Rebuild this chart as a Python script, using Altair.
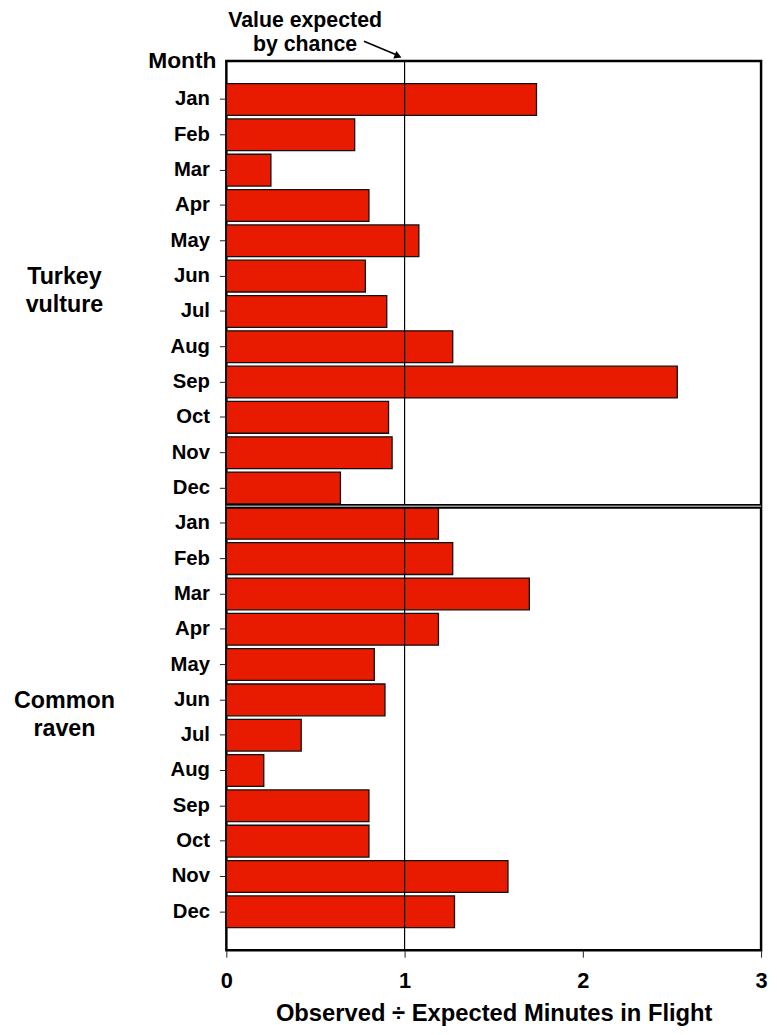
import altair as alt
import pandas as pd

# ---- data ----
months = ["Jan", "Feb", "Mar", "Apr", "May", "Jun", "Jul", "Aug", "Sep", "Oct", "Nov", "Dec"]
species = ["Turkey vulture", "Common raven"]
turkey_vulture = [1.74, 0.72, 0.25, 0.80, 1.08, 0.78, 0.90, 1.27, 2.53, 0.91, 0.93, 0.64]
common_raven = [1.19, 1.27, 1.70, 1.19, 0.83, 0.89, 0.42, 0.21, 0.80, 0.80, 1.58, 1.28]
x_ticks = [0, 1, 2, 3]
expected_by_chance = [1.0]
annotation_text = ["Value expected\nby chance"]
x_title = "Observed \u00f7 Expected Minutes in Flight"
y_title = "Month"

rows = []
for sp, vals in zip(species, [turkey_vulture, common_raven]):
    for m, v in zip(months, vals):
        rows.append({"species": sp, "month": m, "key": f"{sp}|{m}", "ratio": v})
df = pd.DataFrame(rows)
keys = list(df["key"])

FONT = "Liberation Sans"
RED = "#E81A00"

yscale = alt.Scale(domain=keys, paddingInner=0.1, paddingOuter=0.64)

label_expr = ("split(datum.label,'|')[1] == 'Jul' ? 'Jul\u00a0' : split(datum.label,'|')[1]")

y_axis = alt.Axis(
    labelExpr=label_expr, title=y_title, domain=False, grid=False,
    tickSize=7, tickColor="#222222", labelFontSize=20.5, labelFontWeight="bold",
    labelColor="black", labelFont=FONT, labelPadding=10,
    titleAngle=0, titleAlign="right", titleBaseline="alphabetic",
    titleX=-10.5, titleY=7, titleFontSize=23, titleFontWeight="bold",
    titleFont=FONT, titleColor="black",
)

bars = alt.Chart(df).mark_bar(color=RED, stroke="#111111", strokeWidth=1.3).encode(
    x=alt.X(
        "ratio:Q",
        scale=alt.Scale(domain=[0, 3], nice=False, zero=True),
        axis=alt.Axis(
            values=x_ticks, format="d", title=x_title, domain=False, grid=False,
            tickSize=7, tickColor="#222222", labelFontSize=22, labelFontWeight="bold",
            labelColor="black", labelFont=FONT, labelPadding=14, labelFlush=False,
            titleFontSize=24, titleFontWeight="bold", titleFont=FONT, titleColor="black",
            titlePadding=10,
        ),
    ),
    y=alt.Y("key:N", scale=yscale, axis=y_axis),
)

# expected-by-chance reference line
ref_line = alt.Chart(pd.DataFrame({"x": expected_by_chance})).mark_rule(
    color="black", strokeWidth=1.2
).encode(x="x:Q")

# divider between the two species panels
div_df = pd.DataFrame({"key": [f"{species[0]}|{months[-1]}"]})
divider = alt.Chart(div_df).mark_rule(color="black", strokeWidth=5, yOffset=2.5).encode(
    y=alt.Y("key:N", bandPosition=1, axis=y_axis)
)
divider_inner = alt.Chart(div_df).mark_rule(color="#9a9a9a", strokeWidth=1.5, yOffset=2.5).encode(
    y=alt.Y("key:N", bandPosition=1, axis=y_axis)
)

# species labels on the left
sp_df = pd.DataFrame({"species": species, "key": [f"{s}|Jun" for s in species]})
species_labels = alt.Chart(sp_df).mark_text(
    font=FONT, fontWeight="bold", fontSize=23.5, lineBreak=" ", lineHeight=28,
    align="center", baseline="middle", color="black", yOffset=-15,
).encode(
    y=alt.Y("key:N", bandPosition=1, axis=y_axis),
    x=alt.value(-163.5),
    text="species:N",
)

# annotation with arrow
ann_df = pd.DataFrame({"t": annotation_text})
ann_text = alt.Chart(ann_df).mark_text(
    font=FONT, fontWeight="bold", fontSize=21.5, lineBreak="\n", lineHeight=23.5,
    align="center", baseline="alphabetic", color="black",
).encode(x=alt.value(79.5), y=alt.value(-34), text="t:N")

ann_line = alt.Chart(ann_df).mark_rule(color="black", strokeWidth=1.6).encode(
    x=alt.value(139), y=alt.value(-20), x2=alt.value(171), y2=alt.value(-6.5)
)
ann_head = alt.Chart(ann_df).mark_point(
    shape="triangle-right", filled=True, size=70, color="black", opacity=1, angle=21.8
).encode(x=alt.value(173.5), y=alt.value(-5))

chart = alt.layer(
    bars, ref_line, divider, divider_inner, species_labels, ann_text, ann_line, ann_head
).properties(
    width=540,
    height=898,
    autosize=alt.AutoSizeParams(type="none"),
    padding={"left": 220.5, "top": 48.5, "right": 8, "bottom": 78},
).configure_view(
    stroke="black", strokeWidth=2.5
).configure_axis(grid=False)

chart.save("out.html", embed_options={"renderer": "svg", "actions": False})
